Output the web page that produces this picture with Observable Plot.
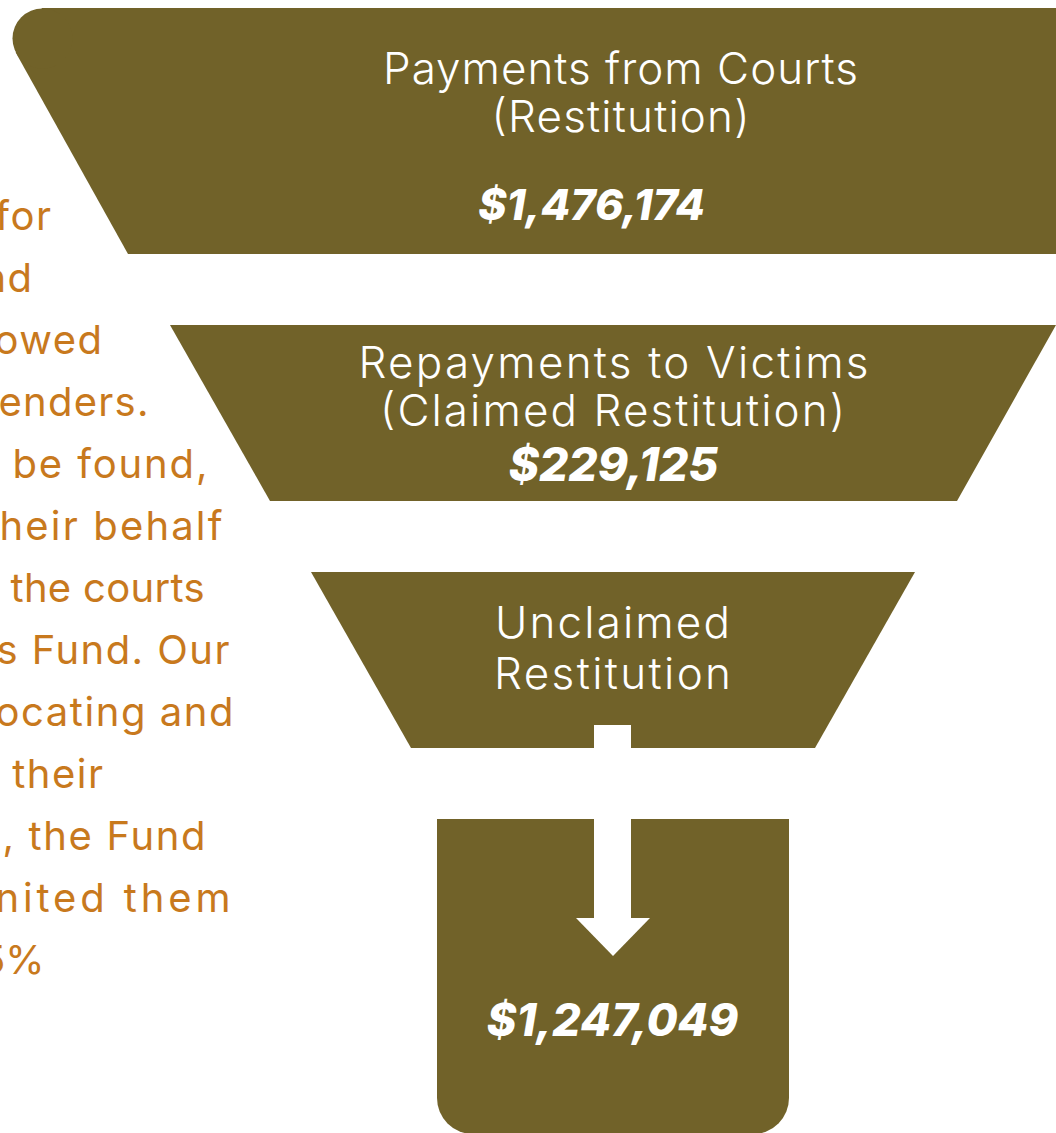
<!DOCTYPE html>
<html>
<head>
<meta charset="utf-8">
<script src="https://cdn.jsdelivr.net/npm/d3@7"></script>
<script src="https://cdn.jsdelivr.net/npm/@observablehq/plot@0.6"></script>
<style>
  html, body { margin: 0; padding: 0; background: #ffffff; }
  #chart svg { display: block; overflow: hidden; }
</style>
</head>
<body>
<div id="chart"></div>
<script>
// ---- Data ----
const stageLabels = [
  ["Payments from Courts", "(Restitution)"],
  ["Repayments to Victims", "(Claimed Restitution)"],
  ["Unclaimed", "Restitution"]
];
const stageAmounts = [1476174, 229125, 1247049];
const bodyLines = [
  "for", "nd", "owed", "enders.", "be found,", "heir behalf",
  "the courts", "s Fund. Our", "ocating and", "their",
  ", the Fund", "nited them", "5%"
];

// ---- Layout (pixel geometry, not data) ----
const W = 1056, H = 1133;
const olive = "#716229";
const orange = "#c8791d";
const font = "Inter, 'Noto Sans', sans-serif";

const band1 = [
  {y: 8, x1: 42, x2: 1070},
  {y: 52.6, x1: 15.7, x2: 1070},
  {y: 254, x1: 128, x2: 1070}
];
const band1Corner = [{x: 42, y: 38}];
const band2 = [
  {y: 325, x1: 170, x2: 1056},
  {y: 501, x1: 270, x2: 957}
];
const band3 = [
  {y: 572, x1: 311, x2: 915},
  {y: 748, x1: 411, x2: 815}
];
const box = [{x1: 437, x2: 789, y1: 819, y2: 1134}];
const boxTop = [{x1: 437, x2: 789, y1: 819, y2: 900}];
const arrowStem = [{x1: 594, x2: 631, y1: 725, y2: 919}];
const arrowHead = [
  {y: 918, x1: 576, x2: 650},
  {y: 956, x1: 613, x2: 613}
];

const labelRows = [
  {text: stageLabels[0][0], x: 620, y: 83, size: 44, w: 475},
  {text: stageLabels[0][1], x: 620, y: 131, size: 44, w: 258},
  {text: stageLabels[1][0], x: 613, y: 377, size: 44, w: 510},
  {text: stageLabels[1][1], x: 612, y: 425, size: 44, w: 465},
  {text: stageLabels[2][0], x: 612, y: 637, size: 44, w: 235},
  {text: stageLabels[2][1], x: 612, y: 688, size: 44, w: 237}
];
const fmt = d3.format("$,");
const amountRows = [
  {text: fmt(stageAmounts[0]), x: 591, y: 219, size: 43},
  {text: fmt(stageAmounts[1]), x: 613, y: 480, size: 46},
  {text: fmt(stageAmounts[2]), x: 612, y: 1035, size: 45}
];
// long lines are fitted between a left and right edge; short ones hang from the right edge
const bodyLeft  = [null, null, null, -2, 12, -1, 10, -4, -5, null, 2, -5, null];
const bodyRight = [52, 33, 103, 148, 207, 222, 204, 229, 233, 104, 205, 230, 44];
const bodySpacing = [1.5, 1.5, 1.5, 0, 0, 0, 0, 0, 0, 1.5, 0, 0, 0];
const bodyRows = bodyLines.map((t, i) => ({
  text: t, y: 229 + i * 62,
  fit: bodyLeft[i] !== null,
  x: bodyLeft[i] !== null ? bodyLeft[i] : bodyRight[i],
  w: bodyLeft[i] !== null ? bodyRight[i] - bodyLeft[i] : null,
  ls: bodySpacing[i]
}));

const textMarks = (rows, opts) =>
  Array.from(new Set(rows.map(r => r.size))).map(s =>
    Plot.text(rows.filter(r => r.size === s), {
      x: "x", y: "y", text: "text", fontSize: s, lineAnchor: "bottom", ...opts
    })
  );
const bodyOpts = {x: "x", y: "y", text: "text", fontSize: 40, lineAnchor: "bottom",
  fill: orange, fontFamily: font, fontWeight: 400};

const chart = Plot.plot({
  width: W,
  height: H,
  margin: 0,
  x: {domain: [0, W], range: [0, W], axis: null},
  y: {domain: [0, H], range: [0, H], axis: null},
  style: {background: "#ffffff"},
  marks: [
    Plot.areaX(band1, {y: "y", x1: "x1", x2: "x2", fill: olive}),
    Plot.dot(band1Corner, {x: "x", y: "y", r: 30, fill: olive, stroke: null}),
    Plot.areaX(band2, {y: "y", x1: "x1", x2: "x2", fill: olive}),
    Plot.areaX(band3, {y: "y", x1: "x1", x2: "x2", fill: olive}),
    Plot.rect(box, {x1: "x1", x2: "x2", y1: "y1", y2: "y2", fill: olive, rx: 36}),
    Plot.rect(boxTop, {x1: "x1", x2: "x2", y1: "y1", y2: "y2", fill: olive}),
    Plot.rect(arrowStem, {x1: "x1", x2: "x2", y1: "y1", y2: "y2", fill: "#ffffff"}),
    Plot.areaX(arrowHead, {y: "y", x1: "x1", x2: "x2", fill: "#ffffff"}),
    ...textMarks(labelRows, {fill: "#ffffff", fontWeight: 300, fontFamily: font, textAnchor: "middle"}),
    ...textMarks(amountRows, {fill: "#ffffff", fontWeight: 800, fontStyle: "italic", fontFamily: font, textAnchor: "middle"}),
    Plot.text(bodyRows.filter(d => d.fit), {...bodyOpts, textAnchor: "start"}),
    Plot.text(bodyRows.filter(d => !d.fit), {...bodyOpts, textAnchor: "end"})
  ]
});
document.getElementById("chart").appendChild(chart);

// fit texts to the reference's typeset widths
const widthByText = new Map([...labelRows, ...bodyRows.filter(d => d.fit)].map(r => [r.text, r.w]));
const shortBody = new Map(bodyRows.filter(d => !d.fit).map(d => [d.text, d.ls]));
d3.select(chart).selectAll("text").each(function() {
  const t = this.textContent;
  if (widthByText.has(t)) {
    this.setAttribute("textLength", widthByText.get(t));
    this.setAttribute("lengthAdjust", "spacing");
  } else if (shortBody.has(t)) {
    this.style.letterSpacing = shortBody.get(t) + "px";
  }
});
</script>
</body>
</html>
